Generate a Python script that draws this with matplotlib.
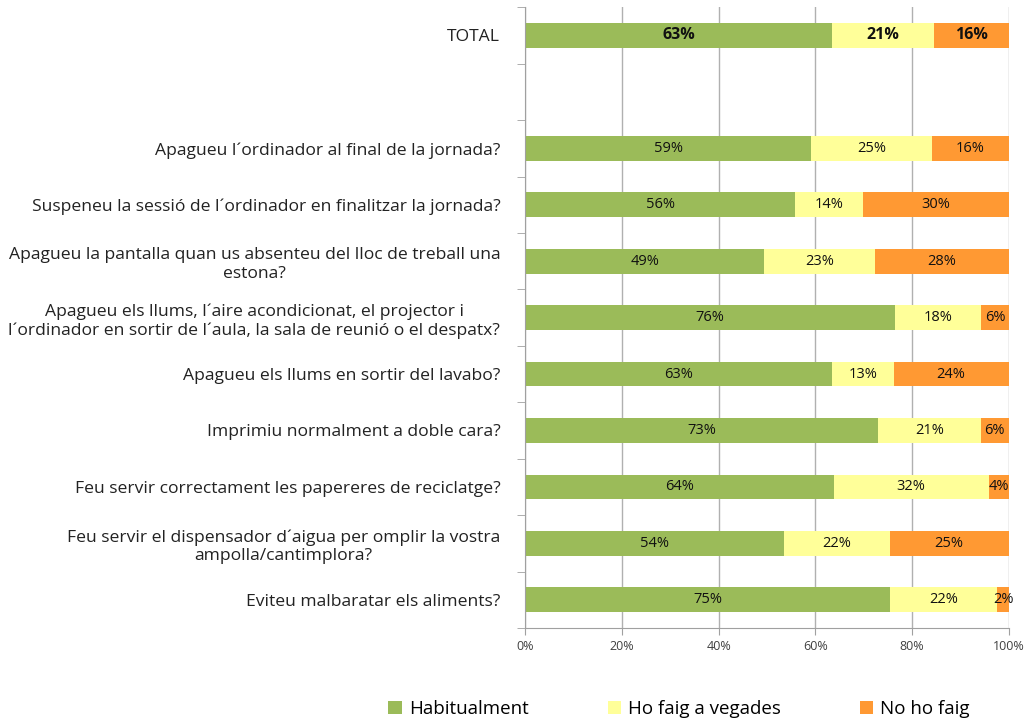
import matplotlib.pyplot as plt
import numpy as np

plt.rcParams['font.family'] = ['Open Sans', 'DejaVu Sans']

questions = [
    'TOTAL',
    '',
    'Apagueu l´ordinador al final de la jornada?',
    'Suspeneu la sessió de l´ordinador en finalitzar la jornada?',
    'Apagueu la pantalla quan us absenteu del lloc de treball una\nestona?',
    'Apagueu els llums, l´aire acondicionat, el projector i\nl´ordinador en sortir de l´aula, la sala de reunió o el despatx?',
    'Apagueu els llums en sortir del lavabo?',
    'Imprimiu normalment a doble cara?',
    'Feu servir correctament les papereres de reciclatge?',
    'Feu servir el dispensador d´aigua per omplir la vostra\nampolla/cantimplora?',
    'Eviteu malbaratar els aliments?',
]
habitualment = [63.4, np.nan, 59.2, 55.9, 49.4, 76.4, 63.4, 72.9, 63.8, 53.6, 75.4]
a_vegades = [21.1, np.nan, 24.9, 13.9, 22.9, 18.0, 12.8, 21.4, 32.1, 21.8, 22.3]
no_ho_faig = [15.6, np.nan, 15.9, 30.2, 27.7, 5.6, 23.8, 5.7, 4.1, 24.6, 2.3]

series = ['Habitualment', 'Ho faig a vegades', 'No ho faig']
colors = ['#9bbb59', '#ffff99', '#ff9933']

fig = plt.figure(figsize=(10.26, 7.26), dpi=100)
ax = fig.add_axes([0.512, 0.135, 0.471, 0.855])

y = np.arange(len(questions))
left = np.zeros(len(questions))
for vals, col, name in zip([habitualment, a_vegades, no_ho_faig], colors, series):
    v = np.nan_to_num(np.array(vals))
    ax.barh(y, v, left=left, height=0.44, color=col, label=name, zorder=2)
    for i in range(len(questions)):
        if v[i] > 0:
            bold = i == 0
            ax.text(left[i] + v[i] / 2, y[i], '%.0f%%' % v[i], ha='center', va='center',
                    fontsize=11.5 if bold else 10.5, fontweight='bold' if bold else 'normal',
                    color='#111111', zorder=3)
    left += v

ax.set_xlim(0, 100)
ax.set_ylim(len(questions) - 0.5, -0.5)
ax.set_xticks(np.arange(0, 101, 20))
ax.set_xticklabels(['%d%%' % t for t in range(0, 101, 20)], fontsize=9, color='#404040')
ax.set_yticks(y)
ax.set_yticklabels(questions, fontsize=12.6, color='#222222', multialignment='center')
ax.set_yticks(np.arange(-0.5, len(questions), 1), minor=True)
ax.tick_params(axis='y', which='major', length=0, pad=18)
ax.tick_params(axis='y', which='minor', length=6, color='#a0a0a0')
ax.tick_params(axis='x', length=5, color='#a0a0a0')
ax.xaxis.grid(True, color='#b0b0b0', linewidth=1, zorder=0)
ax.set_axisbelow(True)
for s in ['top', 'right']:
    ax.spines[s].set_visible(False)
for s in ['left', 'bottom']:
    ax.spines[s].set_color('#a0a0a0')

fig.legend(loc='lower center', bbox_to_anchor=(0.662, -0.012), ncol=3, frameon=False,
           fontsize=13.5, handlelength=0.7, handleheight=0.7, columnspacing=4.2,
           handletextpad=0.4)

plt.savefig('out.png')
